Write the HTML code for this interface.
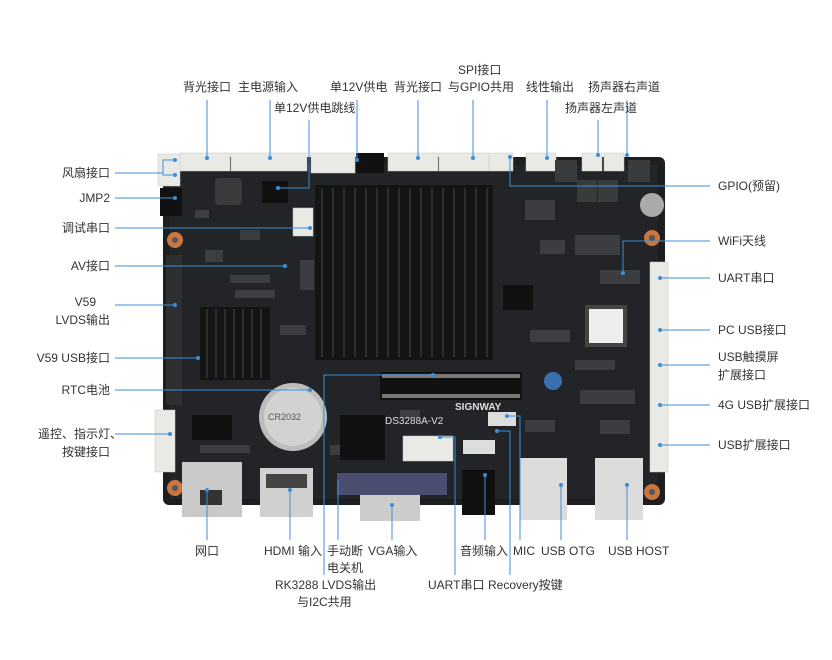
<!DOCTYPE html>
<html><head><meta charset="utf-8"><style>
html,body{margin:0;padding:0;background:#fff;}
svg{display:block;}
text{font-family:"Liberation Sans","Noto Sans CJK SC",sans-serif;font-size:12px;fill:#333;}
</style></head><body>
<svg width="832" height="660" viewBox="0 0 832 660" xmlns="http://www.w3.org/2000/svg">
<!-- board -->
<rect x="163" y="157" width="502" height="348" rx="6" fill="#1d1e20"/>
<rect x="170" y="165" width="488" height="334" fill="#232427"/>
<!-- small components texture -->
<g fill="#3c3d40">
<rect x="195" y="210" width="14" height="8"/><rect x="240" y="230" width="20" height="10"/><rect x="205" y="250" width="18" height="12"/><rect x="230" y="275" width="40" height="8"/><rect x="235" y="290" width="40" height="8"/>
<rect x="525" y="200" width="30" height="20"/><rect x="540" y="240" width="25" height="14"/><rect x="575" y="235" width="45" height="20"/><rect x="600" y="270" width="40" height="14"/>
<rect x="530" y="330" width="40" height="12"/><rect x="575" y="360" width="40" height="10"/><rect x="580" y="390" width="55" height="14"/><rect x="600" y="420" width="30" height="14"/>
<rect x="525" y="420" width="30" height="12"/><rect x="400" y="410" width="20" height="8"/><rect x="280" y="325" width="26" height="10"/><rect x="300" y="260" width="14" height="30"/>
<rect x="200" y="445" width="50" height="8"/><rect x="330" y="445" width="55" height="10"/>
</g>
<!-- mounting holes -->
<g fill="#c9763f"><circle cx="175" cy="240" r="8"/><circle cx="652" cy="238" r="8"/><circle cx="175" cy="488" r="8"/><circle cx="652" cy="492" r="8"/></g>
<g fill="#555"><circle cx="175" cy="240" r="3"/><circle cx="652" cy="238" r="3"/><circle cx="175" cy="488" r="3"/><circle cx="652" cy="492" r="3"/></g>
<!-- top connectors -->
<g fill="#e9e9e6" stroke="#c8c8c4" stroke-width="0.5">
<rect x="158" y="154" width="22" height="32"/>
<rect x="180" y="153" width="50" height="18"/>
<rect x="231" y="153" width="76" height="18"/>
<rect x="311" y="153" width="44" height="20"/>
<rect x="388" y="153" width="50" height="18"/>
<rect x="439" y="153" width="50" height="18"/>
<rect x="489" y="153" width="24" height="18"/>
<rect x="526" y="153" width="30" height="18"/>
<rect x="582" y="153" width="20" height="18"/>
<rect x="604" y="153" width="20" height="18"/>
<rect x="293" y="208" width="20" height="28"/>
<rect x="403" y="436" width="50" height="25"/>
<rect x="155" y="410" width="20" height="62"/>
<rect x="650" y="262" width="18" height="210"/>
</g>
<rect x="356" y="153" width="28" height="20" fill="#111"/>
<rect x="160" y="188" width="22" height="28" fill="#111"/>
<rect x="262" y="181" width="26" height="22" fill="#111"/>
<!-- inductors -->
<g fill="#3a3b3d"><rect x="215" y="178" width="27" height="27" rx="4"/><rect x="555" y="160" width="22" height="22"/><rect x="628" y="160" width="22" height="22"/><rect x="577" y="180" width="20" height="22"/><rect x="598" y="180" width="20" height="22"/></g>
<circle cx="652" cy="205" r="12" fill="#aaa"/>
<!-- big heatsink -->
<rect x="315" y="185" width="178" height="175" fill="#141415"/>
<g stroke="#2d2e30" stroke-width="2">
<line x1="322" y1="188" x2="322" y2="357"/><line x1="333" y1="188" x2="333" y2="357"/><line x1="344" y1="188" x2="344" y2="357"/><line x1="355" y1="188" x2="355" y2="357"/><line x1="366" y1="188" x2="366" y2="357"/><line x1="377" y1="188" x2="377" y2="357"/><line x1="388" y1="188" x2="388" y2="357"/><line x1="399" y1="188" x2="399" y2="357"/><line x1="410" y1="188" x2="410" y2="357"/><line x1="421" y1="188" x2="421" y2="357"/><line x1="432" y1="188" x2="432" y2="357"/><line x1="443" y1="188" x2="443" y2="357"/><line x1="454" y1="188" x2="454" y2="357"/><line x1="465" y1="188" x2="465" y2="357"/><line x1="476" y1="188" x2="476" y2="357"/><line x1="487" y1="188" x2="487" y2="357"/>
</g>
<!-- small heatsink -->
<rect x="200" y="307" width="70" height="73" fill="#141415"/>
<g stroke="#2d2e30" stroke-width="2"><line x1="207" y1="309" x2="207" y2="378"/><line x1="216" y1="309" x2="216" y2="378"/><line x1="225" y1="309" x2="225" y2="378"/><line x1="234" y1="309" x2="234" y2="378"/><line x1="243" y1="309" x2="243" y2="378"/><line x1="252" y1="309" x2="252" y2="378"/><line x1="261" y1="309" x2="261" y2="378"/></g>
<!-- left header -->
<rect x="166" y="255" width="16" height="150" fill="#2e2f31"/>
<!-- pin header -->
<rect x="380" y="372" width="142" height="28" fill="#111"/>
<g fill="#777"><rect x="382" y="374" width="138" height="4"/><rect x="382" y="394" width="138" height="4"/></g>
<!-- chips -->
<rect x="340" y="415" width="45" height="45" fill="#111"/>
<rect x="503" y="285" width="30" height="25" fill="#111"/>
<rect x="585" y="305" width="42" height="42" fill="#444"/>
<rect x="589" y="309" width="34" height="34" fill="#eee"/>
<rect x="192" y="415" width="40" height="25" fill="#111"/>
<circle cx="553" cy="381" r="9" fill="#3a6fb0"/>
<!-- battery -->
<circle cx="293" cy="417" r="34" fill="#bdbdbd"/>
<circle cx="293" cy="417" r="29" fill="#d2d2d2"/>
<text x="268" y="420" style="font-size:9px;fill:#555">CR2032</text>
<text x="385" y="424" style="font-size:10px;fill:#ddd">DS3288A-V2</text>
<text x="455" y="410" style="font-size:10px;fill:#ddd;font-weight:bold">SIGNWAY</text>
<!-- bottom connectors -->
<rect x="182" y="462" width="60" height="55" fill="#c9c9c9"/>
<rect x="200" y="490" width="22" height="15" fill="#333"/>
<rect x="260" y="468" width="53" height="49" fill="#d0d0d0"/>
<rect x="266" y="474" width="41" height="14" fill="#444"/>
<rect x="337" y="473" width="110" height="22" fill="#4a4f72"/>
<rect x="360" y="495" width="60" height="26" fill="#ccc"/>
<rect x="462" y="470" width="33" height="45" fill="#101010"/>
<rect x="520" y="458" width="47" height="62" fill="#dcdcdc"/>
<rect x="595" y="458" width="48" height="62" fill="#dcdcdc"/>
<rect x="488" y="412" width="28" height="14" fill="#ddd"/>
<rect x="463" y="440" width="32" height="14" fill="#ddd"/>
<!-- connector lines -->
<g stroke="#3b8fd8" stroke-width="1" fill="none">
<line x1="207" y1="100" x2="207" y2="158"/>
<line x1="270" y1="100" x2="270" y2="158"/>
<polyline points="309,120 309,188 278,188"/>
<line x1="357" y1="100" x2="357" y2="160"/>
<line x1="418" y1="100" x2="418" y2="158"/>
<line x1="473" y1="100" x2="473" y2="158"/>
<line x1="547" y1="100" x2="547" y2="158"/>
<line x1="627" y1="100" x2="627" y2="155"/>
<line x1="598" y1="120" x2="598" y2="155"/>
<polyline points="510,157 510,186 710,186"/>
<polyline points="115,173 163,173"/><polyline points="175,160 163,160 163,175 175,175"/>
<line x1="115" y1="198" x2="175" y2="198"/>
<line x1="115" y1="228" x2="310" y2="228"/>
<line x1="115" y1="266" x2="285" y2="266"/>
<line x1="115" y1="305" x2="175" y2="305"/>
<line x1="115" y1="358" x2="198" y2="358"/>
<line x1="115" y1="390" x2="310" y2="390"/>
<line x1="115" y1="434" x2="170" y2="434"/>
<polyline points="623,273 623,241 710,241"/>
<line x1="660" y1="278" x2="710" y2="278"/>
<line x1="660" y1="330" x2="710" y2="330"/>
<line x1="660" y1="365" x2="710" y2="365"/>
<line x1="660" y1="405" x2="710" y2="405"/>
<line x1="660" y1="445" x2="710" y2="445"/>
<line x1="207" y1="490" x2="207" y2="540"/>
<line x1="290" y1="490" x2="290" y2="540"/>
<line x1="338" y1="480" x2="338" y2="540"/>
<line x1="392" y1="505" x2="392" y2="540"/>
<polyline points="433,375 324,375 324,575"/>
<polyline points="440,437 455,437 455,575"/>
<line x1="485" y1="475" x2="485" y2="540"/>
<polyline points="497,431 510,431 510,575"/>
<polyline points="507,416 520,416 520,540"/>
<line x1="561" y1="485" x2="561" y2="540"/>
<line x1="627" y1="485" x2="627" y2="540"/>
</g>
<g fill="#3b8fd8">
<circle cx="207" cy="158" r="2"/><circle cx="270" cy="158" r="2"/><circle cx="278" cy="188" r="2"/><circle cx="357" cy="160" r="2"/><circle cx="418" cy="158" r="2"/><circle cx="473" cy="158" r="2"/><circle cx="547" cy="158" r="2"/><circle cx="627" cy="155" r="2"/><circle cx="598" cy="155" r="2"/><circle cx="510" cy="157" r="2"/>
<circle cx="175" cy="160" r="2"/><circle cx="175" cy="175" r="2"/><circle cx="175" cy="198" r="2"/><circle cx="310" cy="228" r="2"/><circle cx="285" cy="266" r="2"/><circle cx="175" cy="305" r="2"/><circle cx="198" cy="358" r="2"/><circle cx="310" cy="390" r="2"/><circle cx="170" cy="434" r="2"/>
<circle cx="623" cy="273" r="2"/><circle cx="660" cy="278" r="2"/><circle cx="660" cy="330" r="2"/><circle cx="660" cy="365" r="2"/><circle cx="660" cy="405" r="2"/><circle cx="660" cy="445" r="2"/>
<circle cx="207" cy="490" r="2"/><circle cx="290" cy="490" r="2"/><circle cx="392" cy="505" r="2"/><circle cx="433" cy="375" r="2"/><circle cx="440" cy="437" r="2"/><circle cx="485" cy="475" r="2"/><circle cx="497" cy="431" r="2"/><circle cx="507" cy="416" r="2"/><circle cx="561" cy="485" r="2"/><circle cx="627" cy="485" r="2"/>
</g>
<!-- labels -->
<text x="183" y="91">背光接口</text>
<text x="238" y="91">主电源输入</text>
<text x="274" y="112">单12V供电跳线</text>
<text x="330" y="91">单12V供电</text>
<text x="394" y="91">背光接口</text>
<text x="458" y="74">SPI接口</text>
<text x="448" y="91">与GPIO共用</text>
<text x="526" y="91">线性输出</text>
<text x="588" y="91">扬声器右声道</text>
<text x="565" y="112">扬声器左声道</text>
<g text-anchor="end">
<text x="110" y="177">风扇接口</text>
<text x="110" y="202">JMP2</text>
<text x="110" y="232">调试串口</text>
<text x="110" y="270">AV接口</text>
<text x="96" y="306">V59</text>
<text x="110" y="324">LVDS输出</text>
<text x="110" y="362">V59 USB接口</text>
<text x="110" y="394">RTC电池</text>
<text x="122" y="438">遥控、指示灯、</text>
<text x="110" y="456">按键接口</text>
</g>
<text x="718" y="190">GPIO(预留)</text>
<text x="718" y="245">WiFi天线</text>
<text x="718" y="282">UART串口</text>
<text x="718" y="334">PC USB接口</text>
<text x="718" y="361">USB触摸屏</text>
<text x="718" y="379">扩展接口</text>
<text x="718" y="409">4G USB扩展接口</text>
<text x="718" y="449">USB扩展接口</text>
<text x="207" y="555" text-anchor="middle">网口</text>
<text x="264" y="555">HDMI 输入</text>
<text x="327" y="555">手动断</text>
<text x="327" y="572">电关机</text>
<text x="368" y="555">VGA输入</text>
<text x="275" y="589">RK3288 LVDS输出</text>
<text x="297" y="606">与I2C共用</text>
<text x="428" y="589">UART串口</text>
<text x="460" y="555">音频输入</text>
<text x="488" y="589">Recovery按键</text>
<text x="513" y="555">MIC</text>
<text x="541" y="555">USB OTG</text>
<text x="608" y="555">USB HOST</text>
</svg>
</body></html>
